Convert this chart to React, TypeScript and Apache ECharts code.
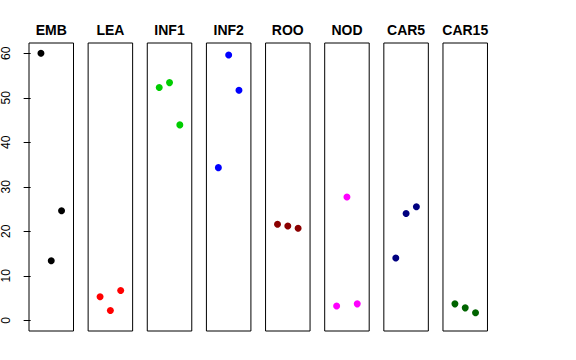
import React, { useEffect, useRef } from "react";
import * as echarts from "echarts";

const groups = ["EMB", "LEA", "INF1", "INF2", "ROO", "NOD", "CAR5", "CAR15"];
const colors = ["#000000", "#FF0000", "#00CD00", "#0000FF", "#8B0000", "#FF00FF", "#000080", "#006400"];
const positions = [1, 2, 3];
const valEMB = [60.0, 13.4, 24.6];
const valLEA = [5.3, 2.2, 6.7];
const valINF1 = [52.3, 53.4, 43.9];
const valINF2 = [34.3, 59.6, 51.7];
const valROO = [21.6, 21.2, 20.7];
const valNOD = [3.2, 27.7, 3.7];
const valCAR5 = [14.0, 24.0, 25.5];
const valCAR15 = [3.7, 2.8, 1.7];
const yTicks = [0, 10, 20, 30, 40, 50, 60];

const allValues = [valEMB, valLEA, valINF1, valINF2, valROO, valNOD, valCAR5, valCAR15];

export default function App() {
  const ref = useRef<HTMLDivElement>(null);
  useEffect(() => {
    if (!ref.current) return;
    const chart = echarts.init(ref.current, null, { renderer: "svg" });
    const left0 = 29;
    const step = 59.14;
    const w = 44.5;
    const top = 43;
    const h = 288;
    const grids: any[] = [];
    const xAxes: any[] = [];
    const yAxes: any[] = [];
    const series: any[] = [];
    const graphics: any[] = [];
    groups.forEach((g, i) => {
      const l = left0 + i * step;
      grids.push({ left: l, top, width: w, height: h, show: true, borderColor: "#000", borderWidth: 1, backgroundColor: "transparent" });
      xAxes.push({ type: "value", gridIndex: i, min: -0.16, max: 4.16, show: false });
      yAxes.push({
        type: "value",
        gridIndex: i,
        min: -2.4,
        max: 62.3,
        show: i === 0,
        axisLine: { show: false },
        splitLine: { show: false },
        axisTick: { show: i === 0, length: 7, lineStyle: { color: "#000" }, customValues: yTicks },
        axisLabel: {
          show: i === 0,
          rotate: 90,
          margin: 17,
          fontSize: 12,
          color: "#000",
          fontFamily: "Liberation Sans, Arial, sans-serif",
          customValues: yTicks,
        },
      });
      series.push({
        type: "scatter",
        xAxisIndex: i,
        yAxisIndex: i,
        symbol: "circle",
        symbolSize: 7,
        itemStyle: { color: colors[i], opacity: 1 },
        data: positions.map((p, k) => [p, allValues[i][k]]),
      });
      graphics.push({
        type: "text",
        x: l + w / 2,
        y: 30,
        style: {
          text: g,
          fontSize: 14,
          fontWeight: "bold",
          fontFamily: "Liberation Sans, Arial, sans-serif",
          fill: "#000",
          textAlign: "center",
          textVerticalAlign: "middle",
        },
      });
    });
    chart.setOption({
      animation: false,
      backgroundColor: "#fff",
      grid: grids,
      xAxis: xAxes,
      yAxis: yAxes,
      series,
      graphic: graphics,
    });
    return () => chart.dispose();
  }, []);
  return <div ref={ref} style={{ position: "absolute", left: 0, top: 0, width: 576, height: 360 }} />;
}
